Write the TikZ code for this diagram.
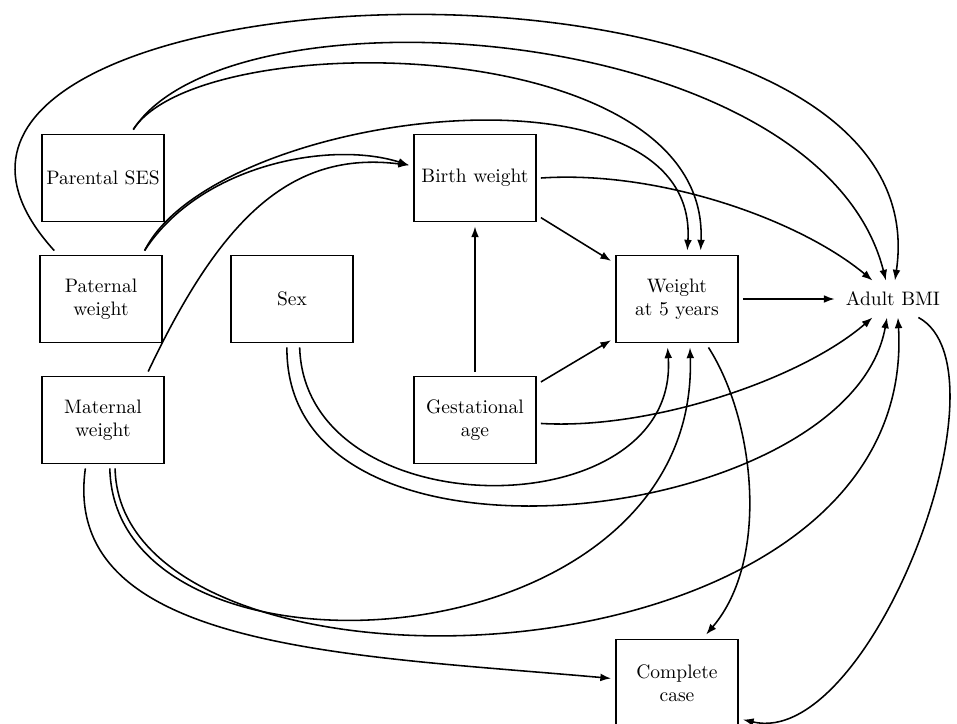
\documentclass[tikz,border=0pt]{standalone}
\usetikzlibrary{arrows.meta}
\begin{document}
\begin{tikzpicture}[x=0.01802cm,y=-0.01802cm,line width=0.8pt,>={Latex[length=5.5pt,width=4pt]},
	var/.style={draw,align=center,minimum width=2.2cm,minimum height=1.57cm,inner sep=2pt,outer sep=2.5pt}]
	\useasboundingbox (0,0) rectangle (957,724);
	\node[var] at (103,178) (ses) {Parental SES};
	\node[var] at (101,299) (pat) {Paternal\\weight};
	\node[var] at (292,299) (sex) {Sex};
	\node[var] at (475,178) (bw) {Birth weight};
	\node[var] at (677,299) (w5) {Weight\\at 5 years};
	\node[outer sep=2.5pt] at (893,299) (bmi) {Adult BMI};
	\node[var] at (103,420) (mat) {Maternal\\weight};
	\node[var] at (475,420) (ga) {Gestational\\age};
	\node[var] at (677,683) (cc) {Complete\\case};
	\draw[->] (pat.134) .. controls (-210,-40) and (950,-95) .. (bmi.84);
	\draw[->] (ses.58) .. controls (230,-20) and (820,20) .. (bmi.111);
	\draw[->] (ses.58) .. controls (200,25) and (710,30) .. (w5.64);
	\draw[->] (pat.48) .. controls (215,110) and (700,50) .. (w5.78);
	\draw[->] (pat.48) .. controls (200,165) and (330,140) .. (bw.169);
	\draw[->] (mat.47) .. controls (220,220) and (290,150) .. (bw.169);
	\draw[->] (bw.-31) -- (w5.150);
	\draw[->] (bw.east) .. controls (660,170) and (800,220) .. (bmi.138);
	\draw[->] (ga) -- (bw);
	\draw[->] (ga.30) -- (w5.212);
	\draw[->] (ga.-3) .. controls (650,430) and (800,380) .. (bmi.222);
	\draw[->] (w5) -- (bmi);
	\draw[->] (sex.279) .. controls (305,530) and (680,530) .. (w5.259);
	\draw[->] (sex.264) .. controls (285,595) and (850,525) .. (bmi.252);
	\draw[->] (mat.278) .. controls (115,700) and (700,670) .. (w5.285);
	\draw[->] (mat.284) .. controls (120,720) and (920,700) .. (bmi.285);
	\draw[->] (mat.250) .. controls (60,650) and (350,655) .. (cc.176);
	\draw[->] (w5.303) .. controls (755,420) and (770,560) .. (cc.59);
	\draw[->] (bmi.324) .. controls (1015,370) and (870,750) .. (cc.331);
\end{tikzpicture}
\end{document}
